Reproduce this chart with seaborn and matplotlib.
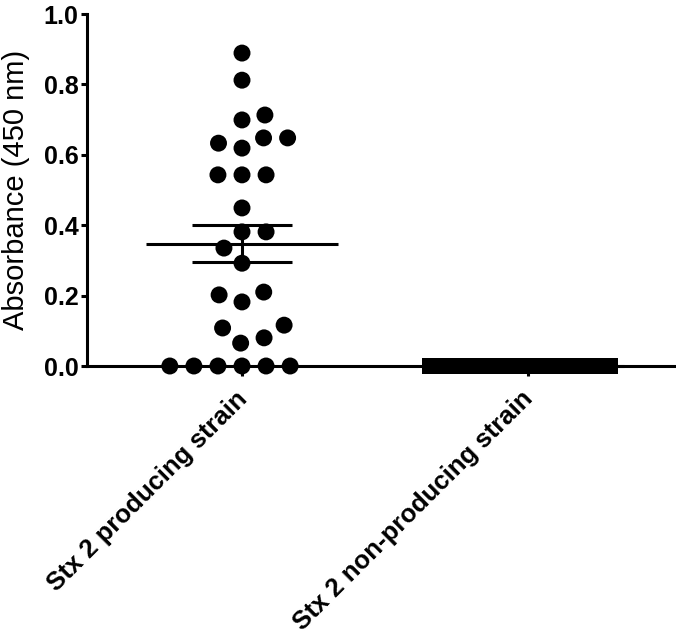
import numpy as np
import pandas as pd
import matplotlib
matplotlib.use('Agg')
import matplotlib.pyplot as plt
import matplotlib.transforms as mtransforms
import seaborn as sns

# Data
categories = ['Stx 2 producing strain', 'Stx 2 non-producing strain']
producing = [0.889, 0.812, 0.713, 0.699, 0.648, 0.648, 0.633, 0.619,
             0.543, 0.543, 0.543, 0.449, 0.381, 0.381, 0.335, 0.292,
             0.210, 0.202, 0.182, 0.116, 0.108, 0.080, 0.065,
             0.0, 0.0, 0.0, 0.0, 0.0, 0.0]
non_producing = [0.0, 0.0, 0.0, 0.0, 0.0, 0.0, 0.0, 0.0, 0.0, 0.0, 0.0, 0.0]
y_ticks = [0.0, 0.2, 0.4, 0.6, 0.8, 1.0]

df = pd.DataFrame({
    'strain': [categories[0]] * len(producing) + [categories[1]] * len(non_producing),
    'absorbance': producing + non_producing,
})

# Visual settings
sns.set_style('ticks')
plt.rcParams['font.family'] = ['Liberation Sans', 'DejaVu Sans']

W, H = 676, 639
fig = plt.figure(figsize=(W / 100, H / 100), dpi=100)
ax = fig.add_axes([87 / W, 1 - 366 / H, (675 - 87) / W, (366 - 14) / H])

# Scatter of individual strains
sns.swarmplot(data=df[df['strain'] == categories[0]], x='strain', y='absorbance',
              order=categories, color='black', marker='o', size=12.2,
              linewidth=4.3, edgecolor='none', ax=ax)
# squares overlap a little so they merge into one solid bar
sns.swarmplot(data=df[df['strain'] == categories[1]], x='strain', y='absorbance',
              order=categories, color='black', marker='s', size=11.8,
              linewidth=-0.6, edgecolor='none', ax=ax)
for coll in list(ax.collections):
    if len(coll.get_offsets()) == 0:
        coll.remove()
    else:
        coll.set_clip_on(False)

# Mean +/- SEM
for i, cat in enumerate(categories):
    vals = df.loc[df['strain'] == cat, 'absorbance']
    m = vals.mean()
    se = vals.std(ddof=1) / np.sqrt(len(vals))
    ax.hlines(m, i - 0.336, i + 0.336, color='black', lw=2.2, zorder=5, clip_on=False)
    ax.hlines([m - se, m + se], i - 0.175, i + 0.175, color='black', lw=2.2, zorder=5, clip_on=False)
    ax.vlines(i, m - se, m + se, color='black', lw=2.2, zorder=5, clip_on=False)

ax.set_xlim(-0.542, 1.514)
ax.set_ylim(0, 1.0)
sns.despine(ax=ax)
for side in ['left', 'bottom']:
    ax.spines[side].set_linewidth(2.2)
    ax.spines[side].set_color('black')

ax.set_yticks(y_ticks)
ax.set_yticklabels([f'{v:.1f}' for v in y_ticks], fontsize=18, fontweight='bold')
ax.tick_params(axis='y', length=4, width=2.2, pad=2, colors='black')
ax.tick_params(axis='x', length=7, width=2.2, pad=8, colors='black')
ax.set_xticks(range(len(categories)))
ax.set_xticklabels(categories, fontsize=18.5, fontweight='bold', rotation=45,
                   ha='right', va='top', rotation_mode='anchor')
shift = mtransforms.ScaledTranslation(-7 / 100, 0, fig.dpi_scale_trans)
for lab in ax.get_xticklabels():
    lab.set_transform(lab.get_transform() + shift)

ax.set_xlabel('')
ax.set_ylabel('Absorbance (450 nm)', fontsize=21, color='black')
ax.yaxis.set_label_coords((30 - 87) / 588, 0.5)

fig.savefig('out.png', dpi=100)
